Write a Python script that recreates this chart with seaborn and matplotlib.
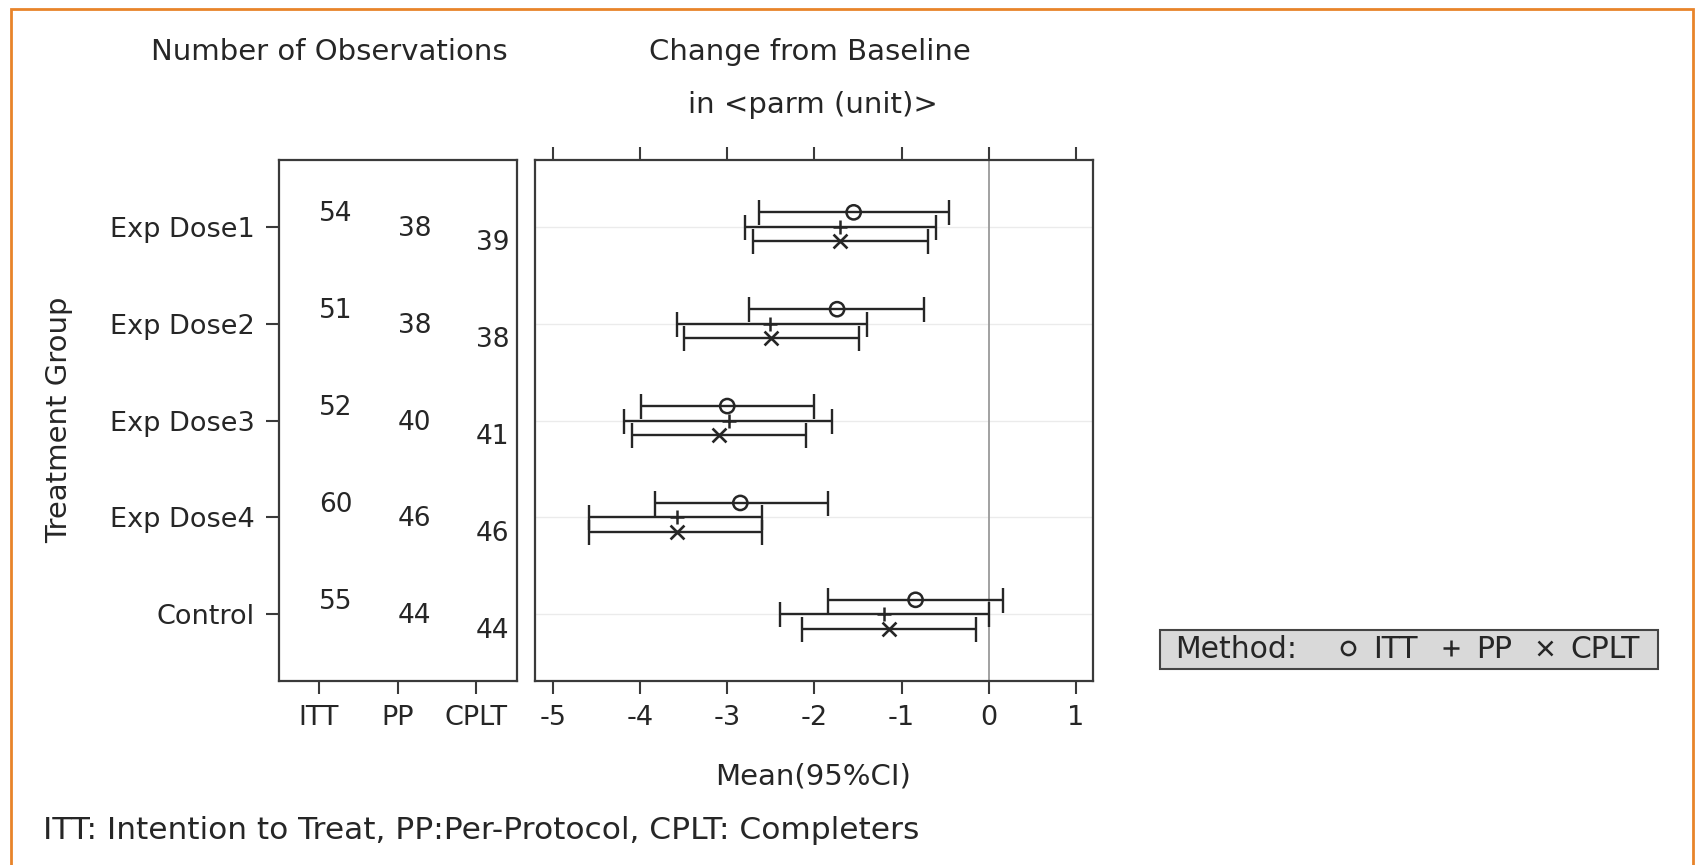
"""
Forest plot: number of observations + change from baseline (mean, 95% CI)
by treatment group and analysis set (ITT / PP / CPLT).
"""
import matplotlib
matplotlib.use("Agg")
import matplotlib.pyplot as plt
import numpy as np
import pandas as pd
import seaborn as sns
from matplotlib.lines import Line2D
from matplotlib.patches import Rectangle

# ─── data ─────────────────────────────────────────────────────────────────────
groups = ["Exp Dose1", "Exp Dose2", "Exp Dose3", "Exp Dose4", "Control"]
methods = ["ITT", "PP", "CPLT"]

n_itt = [54, 51, 52, 60, 55]
n_pp = [38, 38, 40, 46, 44]
n_cplt = [39, 38, 41, 46, 44]

mean_itt = [-1.55, -1.74, -3.00, -2.85, -0.84]
lo_itt = [-2.64, -2.75, -3.99, -3.83, -1.84]
hi_itt = [-0.46, -0.74, -2.00, -1.84, 0.16]

mean_pp = [-1.71, -2.51, -2.98, -3.58, -1.20]
lo_pp = [-2.80, -3.58, -4.18, -4.58, -2.39]
hi_pp = [-0.60, -1.40, -1.80, -2.60, 0.00]

mean_cplt = [-1.71, -2.50, -3.10, -3.58, -1.15]
lo_cplt = [-2.70, -3.50, -4.09, -4.58, -2.14]
hi_cplt = [-0.70, -1.49, -2.10, -2.60, -0.15]

x_ticks = [-5, -4, -3, -2, -1, 0, 1]

# ─── long table ───────────────────────────────────────────────────────────────
offsets = {"ITT": -0.15, "PP": 0.0, "CPLT": 0.15}
frames = []
for m, n, mu, lo, hi in zip(methods,
                            [n_itt, n_pp, n_cplt],
                            [mean_itt, mean_pp, mean_cplt],
                            [lo_itt, lo_pp, lo_cplt],
                            [hi_itt, hi_pp, hi_cplt]):
    frames.append(pd.DataFrame({"group": groups, "method": m, "n": n,
                                "mean": mu, "lo": lo, "hi": hi}))
df = pd.concat(frames, ignore_index=True)
df["gi"] = df["group"].map({g: i for i, g in enumerate(groups)})
df["mi"] = df["method"].map({m: i for i, m in enumerate(methods)})
df["y"] = df["gi"] + df["method"].map(offsets)

# ─── style ────────────────────────────────────────────────────────────────────
sns.set_style("ticks")
plt.rcParams["font.family"] = ["DejaVu Sans"]
INK = "#262626"
EDGE = "#3a3a3a"
TICK_FS = 19.5
LABEL_FS = 21

fig = plt.figure(figsize=(16.96, 8.65), dpi=100)
ax_n = fig.add_axes([0.1645, 0.2125, 0.1403, 0.6025])
ax_ci = fig.add_axes([0.3157, 0.2125, 0.3290, 0.6025])

for ax in (ax_n, ax_ci):
    for sp in ax.spines.values():
        sp.set_color(EDGE)
        sp.set_linewidth(1.6)
    ax.set_ylim(4.69, -0.69)
    ax.tick_params(direction="out", length=9.5, width=1.5, color=EDGE,
                   labelsize=TICK_FS, labelcolor=INK, pad=8)

# ─── left panel: number of observations ──────────────────────────────────────
for _, r in df.iterrows():
    ax_n.text(r["mi"], r["y"] + 0.02, f"{r['n']}", ha="left", va="center",
              fontsize=19, color=INK)
ax_n.set_xlim(-0.51, 2.52)
ax_n.set_xticks(range(len(methods)), methods)
ax_n.set_yticks(range(len(groups)), groups)
ax_n.set_xlabel("")
ax_n.set_ylabel("")

# ─── right panel: mean (95% CI) ──────────────────────────────────────────────
for i in range(len(groups)):
    ax_ci.axhline(i, color="#ebebeb", lw=1.0, zorder=0)
ax_ci.axvline(0, color="#9a9a9a", lw=1.3, zorder=1)

ax_ci.errorbar(df["mean"], df["y"],
               xerr=[df["mean"] - df["lo"], df["hi"] - df["mean"]],
               fmt="none", ecolor=INK, elinewidth=1.7, capsize=9,
               capthick=1.7, zorder=2)

itt = df[df["method"] == "ITT"]
pp = df[df["method"] == "PP"]
cplt = df[df["method"] == "CPLT"]
sns.scatterplot(x=itt["mean"], y=itt["y"], ax=ax_ci, marker="o", s=105,
                facecolors="none", edgecolor=INK, linewidth=1.8, zorder=3)
sns.scatterplot(x=pp["mean"], y=pp["y"], ax=ax_ci, marker="+", s=110,
                color=INK, linewidth=1.8, zorder=3)
sns.scatterplot(x=cplt["mean"], y=cplt["y"], ax=ax_ci, marker="x", s=100,
                color=INK, linewidth=1.9, zorder=3)

ax_ci.set_xlim(-5.2, 1.2)
ax_ci.set_ylim(4.69, -0.69)
ax_ci.set_xticks(x_ticks, [str(v) for v in x_ticks])
ax_ci.set_yticks(range(len(groups)))
ax_ci.tick_params(axis="x", top=True)
ax_ci.tick_params(axis="y", left=False, labelleft=False)
ax_ci.set_xlabel("")
ax_ci.set_ylabel("")

# ─── titles / labels ─────────────────────────────────────────────────────────
fig.text(0.194, 0.94, "Number of Observations", ha="center", va="center",
         fontsize=LABEL_FS, color=INK)
fig.text(0.4777, 0.94, "Change from Baseline", ha="center", va="center",
         fontsize=LABEL_FS, color=INK)
fig.text(0.4796, 0.879, "in <parm (unit)>", ha="center", va="center",
         fontsize=LABEL_FS, color=INK)
fig.text(0.035, 0.515, "Treatment Group", rotation=90, ha="center",
         va="center", fontsize=LABEL_FS, color=INK)
fig.text(0.4796, 0.1025, "Mean(95%CI)", ha="center", va="center",
         fontsize=LABEL_FS, color=INK)
fig.text(0.0255, 0.04, "ITT: Intention to Treat, PP:Per-Protocol, CPLT: Completers",
         ha="left", va="center", fontsize=22.5, color=INK)

# ─── legend ──────────────────────────────────────────────────────────────────
fig.add_artist(Rectangle((0.6840, 0.2266), 0.2936, 0.0451,
                         transform=fig.transFigure, facecolor="#d9d9d9",
                         edgecolor="#444444", lw=1.5))
fig.text(0.6928, 0.2491, "Method:", ha="left", va="center",
         fontsize=21.5, color=INK)
handles = [
    Line2D([], [], ls="none", marker="o", mfc="none", mec=INK, ms=9.5, mew=1.8),
    Line2D([], [], ls="none", marker="+", color=INK, ms=12, mew=1.8),
    Line2D([], [], ls="none", marker="x", color=INK, ms=10, mew=1.8),
]
fig.legend(handles, methods, loc="center left", bbox_to_anchor=(0.7877, 0.2491),
           ncol=3, frameon=False, fontsize=21.5, handlelength=0.8,
           handletextpad=0.44, columnspacing=0.72, borderpad=0,
           borderaxespad=0, labelcolor=INK)

# ─── outer orange frame ──────────────────────────────────────────────────────
fig.add_artist(Rectangle((0.0065, -0.05), 0.9917, 1.0396,
                         transform=fig.transFigure, fill=False,
                         edgecolor="#e8842a", lw=2.0))

fig.savefig("out.png", dpi=100)
